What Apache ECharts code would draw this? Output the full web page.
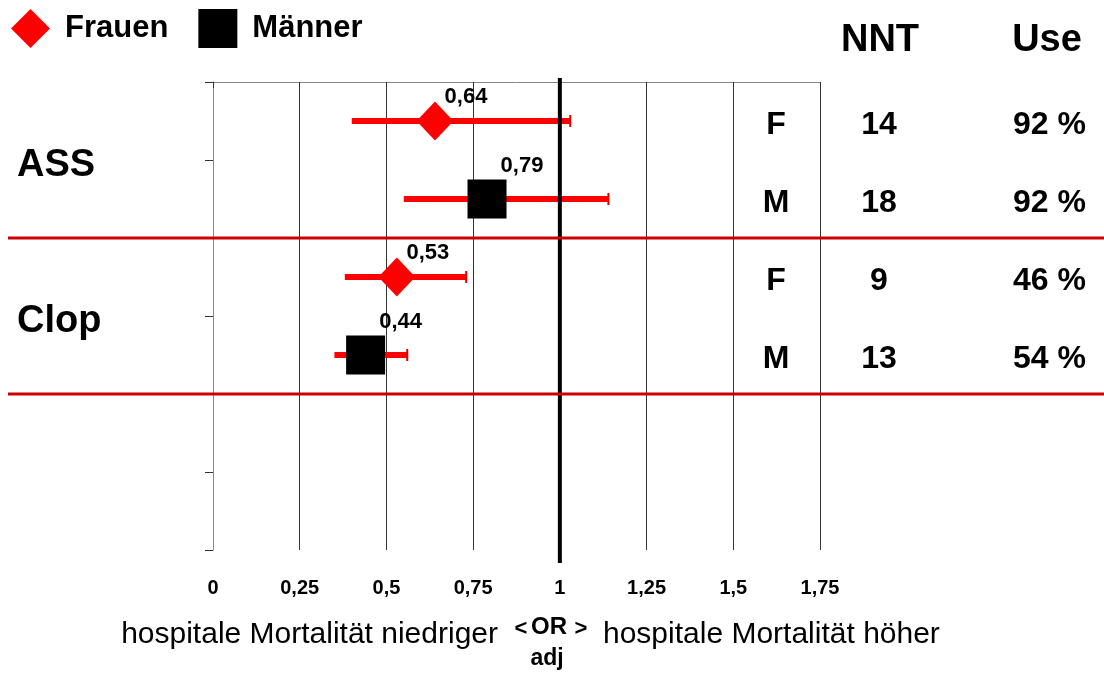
<!DOCTYPE html>
<html>
<head>
<meta charset="utf-8">
<script src="https://cdn.jsdelivr.net/npm/echarts@6/dist/echarts.min.js"></script>
<style>
  html, body { margin: 0; padding: 0; background: #fff; }
  #main { width: 1104px; height: 674px; }
</style>
</head>
<body>
<div id="main"></div>
<script>
// data
var groups = ['ASS', 'Clop'];
var sex = ['F', 'M', 'F', 'M'];
var orAdj = [0.64, 0.79, 0.53, 0.44];
var ciLow = [0.40, 0.55, 0.38, 0.35];
var ciHigh = [1.03, 1.14, 0.73, 0.56];
var nnt = ['14', '18', '9', '13'];
var use = ['92 %', '92 %', '46 %', '54 %'];
var xTicks = [0, 0.25, 0.5, 0.75, 1, 1.25, 1.5, 1.75];
var refValue = 1;

var FONT = '"Liberation Sans", Arial, Helvetica, sans-serif';

function comma(v) { return String(v).replace('.', ','); }

var chartDom = document.getElementById('main');
var myChart = echarts.init(chartDom);

var errData = orAdj.map(function (v, i) { return [ciLow[i], ciHigh[i], i + 0.5]; });
var fData = [], mData = [];
orAdj.forEach(function (v, i) {
    (sex[i] === 'F' ? fData : mData).push([v, i + 0.5]);
});

var valueLabel = {
    show: true,
    position: 'inside',
    formatter: function (p) { return p.value[0].toFixed(2).replace('.', ','); },
    fontFamily: FONT,
    fontWeight: 'bold',
    fontSize: 22,
    color: '#000'
};

var option = {
    animation: false,
    backgroundColor: '#fff',
    textStyle: { fontFamily: FONT },
    legend: {
        data: ['Frauen', 'Männer'],
        left: 6,
        top: 4,
        itemWidth: 39,
        itemHeight: 39,
        itemGap: 30,
        itemStyle: { opacity: 1 },
        textStyle: { fontFamily: FONT, fontSize: 31, fontWeight: 'bold', color: '#000', padding: [0, 0, 0, 10] }
    },
    grid: { left: 213, right: 284, top: 82, bottom: 124 },
    xAxis: {
        type: 'value',
        min: 0,
        max: 1.75,
        interval: 0.25,
        axisLine: { show: true, lineStyle: { color: '#888', width: 1 } },
        axisTick: { show: true, length: 6, lineStyle: { color: '#333' } },
        splitLine: { show: true, lineStyle: { color: '#333', width: 1 } },
        axisLabel: {
            margin: 28,
            fontFamily: FONT,
            fontWeight: 'bold',
            fontSize: 20,
            color: '#000',
            formatter: function (v) { return xTicks.indexOf(v) >= 0 ? comma(v) : ''; }
        }
    },
    yAxis: {
        type: 'value',
        min: 0,
        max: 6,
        interval: 1,
        inverse: true,
        axisLine: { show: true, lineStyle: { color: '#888', width: 1 } },
        axisTick: { show: true, length: 8, lineStyle: { color: '#333' } },
        splitLine: { show: false },
        axisLabel: { show: false }
    },
    series: [
        {
            type: 'custom',
            name: 'CI',
            z: 2,
            renderItem: function (params, api) {
                var p0 = api.coord([api.value(0), api.value(2)]);
                var p1 = api.coord([api.value(1), api.value(2)]);
                return {
                    type: 'group',
                    children: [
                        { type: 'line', shape: { x1: p0[0], y1: p0[1], x2: p1[0], y2: p1[1] },
                          style: { stroke: '#ff0000', lineWidth: 6 } },
                        { type: 'line', shape: { x1: p1[0], y1: p1[1] - 6, x2: p1[0], y2: p1[1] + 6 },
                          style: { stroke: '#e00000', lineWidth: 2 } }
                    ]
                };
            },
            encode: { x: [0, 1], y: 2 },
            data: errData
        },
        {
            type: 'scatter',
            name: 'Frauen',
            z: 10,
            symbol: 'diamond',
            symbolSize: [37, 39],
            itemStyle: { color: '#ff0000', opacity: 1 },
            label: Object.assign({ offset: [31, -24] }, valueLabel),
            data: fData
        },
        {
            type: 'scatter',
            name: 'Männer',
            z: 10,
            symbol: 'rect',
            symbolSize: 39,
            itemStyle: { color: '#000', opacity: 1 },
            label: Object.assign({ offset: [35, -33] }, valueLabel),
            data: mData
        }
    ]
};

option && myChart.setOption(option);

// reference line, separators, group names, table and axis caption placed with the chart's own scales
var gfx = [];
var xRef = myChart.convertToPixel({ xAxisIndex: 0 }, refValue);
gfx.push({ type: 'line', z: 5, shape: { x1: xRef, y1: 78, x2: xRef, y2: 563 },
           style: { stroke: '#000', lineWidth: 4 } });
[2, 4].forEach(function (v) {
    var y = myChart.convertToPixel({ yAxisIndex: 0 }, v);
    gfx.push({ type: 'line', z: 20, shape: { x1: 8, y1: y, x2: 1104, y2: y },
               style: { stroke: '#cc0000', lineWidth: 3 } });
});
groups.forEach(function (g, k) {
    var y = myChart.convertToPixel({ yAxisIndex: 0 }, 2 * k + 1) + 6;
    gfx.push({ type: 'text', x: 17, y: y, style: { text: g, fontFamily: FONT, fontWeight: 'bold', fontSize: 38,
               fill: '#000', align: 'left', verticalAlign: 'middle' } });
});
var bold30 = { fontFamily: FONT, fontWeight: 'bold', fontSize: 32, fill: '#000', verticalAlign: 'middle' };
orAdj.forEach(function (v, i) {
    var y = myChart.convertToPixel({ yAxisIndex: 0 }, i + 0.5) + 4;
    gfx.push({ type: 'text', x: 776, y: y, style: Object.assign({ text: sex[i], align: 'center' }, bold30) });
    gfx.push({ type: 'text', x: 879, y: y, style: Object.assign({ text: nnt[i], align: 'center' }, bold30) });
    gfx.push({ type: 'text', x: 1086, y: y, style: Object.assign({ text: use[i], align: 'right' }, bold30) });
});
var head = { fontFamily: FONT, fontWeight: 'bold', fontSize: 38, fill: '#000', verticalAlign: 'middle', align: 'center' };
gfx.push({ type: 'text', x: 880, y: 41, style: Object.assign({ text: 'NNT' }, head) });
gfx.push({ type: 'text', x: 1047, y: 41, style: Object.assign({ text: 'Use' }, head) });

var cap = { fontFamily: FONT, fontSize: 30, fill: '#000', verticalAlign: 'middle' };
function capB(size) {
    return { fontFamily: FONT, fontSize: size, fontWeight: 'bold', fill: '#000', verticalAlign: 'middle', align: 'center' };
}
gfx.push({ type: 'text', x: 498, y: 635, style: Object.assign({ text: 'hospitale Mortalität niedriger', align: 'right' }, cap) });
gfx.push({ type: 'text', x: 521, y: 629, style: Object.assign({ text: '<' }, capB(22)) });
gfx.push({ type: 'text', x: 549, y: 627, style: Object.assign({ text: 'OR' }, capB(24)) });
gfx.push({ type: 'text', x: 581, y: 629, style: Object.assign({ text: '>' }, capB(22)) });
gfx.push({ type: 'text', x: 547, y: 659, style: Object.assign({ text: 'adj' }, capB(23)) });
gfx.push({ type: 'text', x: 603, y: 635, style: Object.assign({ text: 'hospitale Mortalität höher', align: 'left' }, cap) });

myChart.setOption({ graphic: gfx });
</script>
</body>
</html>
